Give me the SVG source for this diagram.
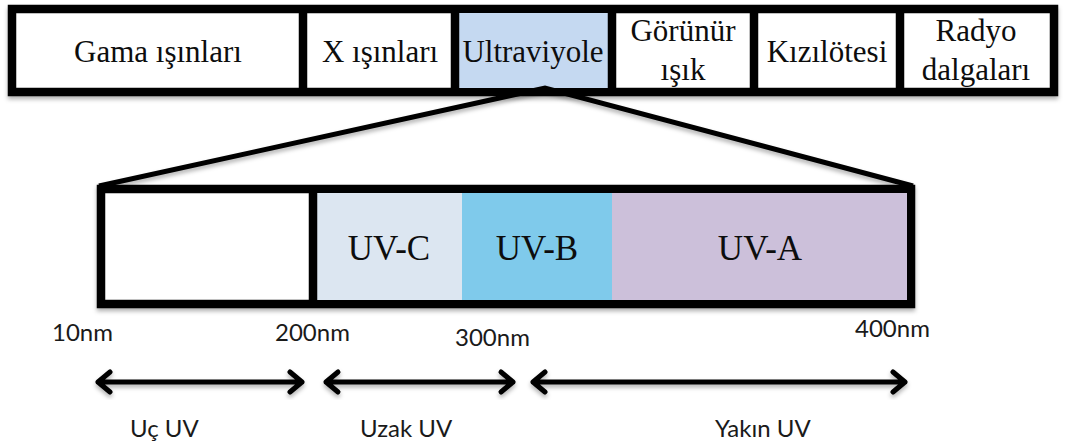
<svg xmlns="http://www.w3.org/2000/svg" width="1065" height="444" viewBox="0 0 1065 444">
<defs>
<style>
.box{stroke:#000;stroke-width:8.5}
.div{stroke:#000;stroke-width:8.5}
.serif{font-family:"Liberation Serif","Times New Roman",serif;fill:#0d0d0d;text-anchor:middle}
.top{font-size:31px}
.uv{font-size:35px}
.sans{font-family:Lato,"Open Sans","Liberation Sans",sans-serif;font-size:24px;fill:#1a1a1a}
.conn{stroke:#000;stroke-width:5;fill:none}
.arr{stroke:#000;stroke-width:5;fill:none;stroke-linecap:round;stroke-linejoin:round}
</style>
<filter id="sh" x="-5%" y="-20%" width="110%" height="160%">
<feDropShadow dx="0" dy="3" stdDeviation="2" flood-color="#000" flood-opacity="0.3"/>
</filter>
</defs>
<rect width="1065" height="444" fill="#fff"/>

<g id="spectrum" filter="url(#sh)">
<rect class="box" x="12" y="9" width="1042" height="83" fill="#fff"/>
</g>
<g id="gama"><text class="serif top" x="158" y="62">Gama ışınları</text></g>
<g id="xray"><line class="div" x1="303" y1="9" x2="303" y2="92"/><text class="serif top" x="380" y="62">X ışınları</text></g>
<g id="ultraviyole"><rect x="455" y="13" width="157" height="75" fill="#C5D9F1"/><line class="div" x1="455" y1="9" x2="455" y2="92"/><text class="serif top" x="533" y="62">Ultraviyole</text></g>
<g id="gorunur"><line class="div" x1="612" y1="9" x2="612" y2="92"/><text class="serif top" x="683" y="41">Görünür</text><text class="serif top" x="683" y="80">ışık</text></g>
<g id="kizilotesi"><line class="div" x1="754" y1="9" x2="754" y2="92"/><text class="serif top" x="827" y="62">Kızılötesi</text></g>
<g id="radyo"><line class="div" x1="900" y1="9" x2="900" y2="92"/><text class="serif top" x="976" y="41">Radyo</text><text class="serif top" x="976" y="80">dalgaları</text></g>

<g id="connectors" filter="url(#sh)">
<polyline class="conn" points="99,186 545,88 913,186"/>
</g>

<g id="uvband" filter="url(#sh)">
<rect class="box" x="101" y="189" width="810" height="115" fill="#fff"/>
</g>
<g id="uvc"><rect x="313" y="193" width="149" height="107" fill="#DCE6F1"/><line class="div" x1="313" y1="189" x2="313" y2="304"/><text class="serif uv" x="389" y="260">UV-C</text></g>
<g id="uvb"><rect x="462" y="193" width="150" height="107" fill="#7FCAEB"/><text class="serif uv" x="537" y="260">UV-B</text></g>
<g id="uva"><rect x="612" y="193" width="295" height="107" fill="#CCC0DA"/><text class="serif uv" x="760" y="260">UV-A</text></g>

<g id="scale">
<text class="sans" x="52" y="341">10nm</text>
<text class="sans" x="275" y="341">200nm</text>
<text class="sans" x="455" y="346">300nm</text>
<text class="sans" x="855" y="337">400nm</text>
</g>

<g id="arrows" filter="url(#sh)">
<path class="arr" d="M98,382H302M110,372L98,382L110,392M290,372L302,382L290,392"/>
<path class="arr" d="M326,382H513M338,372L326,382L338,392M501,372L513,382L501,392"/>
<path class="arr" d="M533,382H905M545,372L533,382L545,392M893,372L905,382L893,392"/>
</g>

<g id="ranges">
<text class="sans" x="130" y="437">Uç UV</text>
<text class="sans" x="360" y="437">Uzak UV</text>
<text class="sans" x="715" y="437">Yakın UV</text>
</g>
</svg>
